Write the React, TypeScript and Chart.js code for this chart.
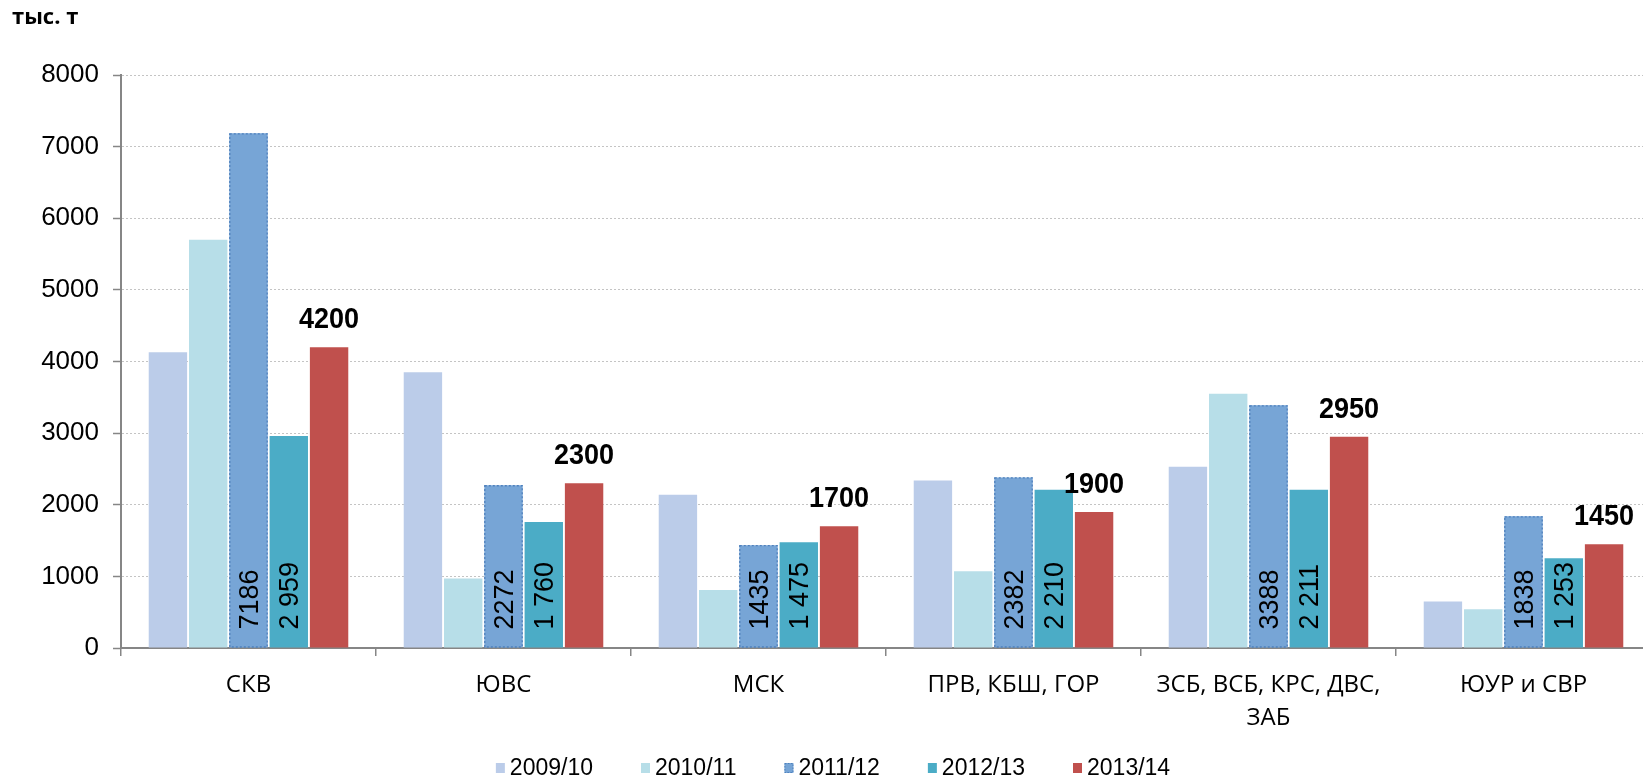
import React, { useEffect, useRef } from "react";
import { Chart, registerables } from "chart.js";

Chart.register(...registerables);

const categories: (string | string[])[] = [
  "СКВ",
  "ЮВС",
  "МСК",
  "ПРВ, КБШ, ГОР",
  ["ЗСБ, ВСБ, КРС, ДВС,", "ЗАБ"],
  "ЮУР и СВР",
];

const seriesNames = ["2009/10", "2010/11", "2011/12", "2012/13", "2013/14"];

const s2009_10 = [4130, 3850, 2140, 2340, 2530, 650];
const s2010_11 = [5700, 970, 810, 1070, 3550, 540];
const s2011_12 = [7186, 2272, 1435, 2382, 3388, 1838];
const s2012_13 = [2959, 1760, 1475, 2210, 2211, 1253];
const s2013_14 = [4200, 2300, 1700, 1900, 2950, 1450];

const yMin = 0;
const yMax = 8000;
const yStep = 1000;

const unitLabel = "тыс. т";

const seriesColors = ["#BBCCE9", "#B7DEE8", "#77A5D6", "#4BACC6", "#C0504D"];
const dottedBorderColor = "#4F81BD";

const ARIAL = "'Liberation Sans', Arial, sans-serif";
const HUMANIST = "'Open Sans', 'Noto Sans', sans-serif";

const groupThousands = (v: number) => String(v).replace(/\B(?=(\d{3})+(?!\d))/g, " ");

const customPlugin = {
  id: "customDecor",
  afterDatasetsDraw(chart: any) {
    const ctx = chart.ctx as CanvasRenderingContext2D;

    // dotted outline for 2011/12
    const meta2 = chart.getDatasetMeta(2);
    ctx.save();
    ctx.strokeStyle = dottedBorderColor;
    ctx.lineWidth = 1.3;
    ctx.setLineDash([2, 2]);
    meta2.data.forEach((bar: any) => {
      const { x, y, base, width } = bar.getProps(["x", "y", "base", "width"], true);
      ctx.strokeRect(x - width / 2 + 0.5, y + 0.5, width - 1, base - y - 1);
    });
    ctx.restore();

    // rotated value labels inside 2011/12 and 2012/13 bars
    const fs = 27;
    [2, 3].forEach((di) => {
      const meta = chart.getDatasetMeta(di);
      const data = chart.data.datasets[di].data as number[];
      meta.data.forEach((bar: any, i: number) => {
        const { x, base } = bar.getProps(["x", "base"], true);
        const text = di === 3 ? groupThousands(data[i]) : String(data[i]);
        ctx.save();
        ctx.translate(x, base - 18);
        ctx.rotate(-Math.PI / 2);
        ctx.font = `${fs}px ${ARIAL}`;
        ctx.fillStyle = "#000";
        ctx.textAlign = "left";
        ctx.textBaseline = "alphabetic";
        ctx.fillText(text, 0, (fs * 0.716) / 2);
        ctx.restore();
      });
    });

    // bold condensed labels above 2013/14 bars
    const meta4 = chart.getDatasetMeta(4);
    const data4 = chart.data.datasets[4].data as number[];
    meta4.data.forEach((bar: any, i: number) => {
      const { x, y } = bar.getProps(["x", "y"], true);
      ctx.save();
      ctx.translate(x, y - 19);
      ctx.scale(0.9, 1);
      ctx.font = `bold 30px ${ARIAL}`;
      ctx.fillStyle = "#000";
      ctx.textAlign = "center";
      ctx.textBaseline = "alphabetic";
      ctx.fillText(String(data4[i]), 0, 0);
      ctx.restore();
    });
  },
  afterDraw(chart: any) {
    const ctx = chart.ctx as CanvasRenderingContext2D;
    // unit label
    ctx.save();
    ctx.font = `bold 22px ${HUMANIST}`;
    ctx.fillStyle = "#000";
    ctx.textAlign = "left";
    ctx.textBaseline = "alphabetic";
    ctx.fillText(unitLabel, 12, 24);
    ctx.restore();

    // legend
    ctx.save();
    const lfs = 23;
    ctx.font = `${lfs}px ${ARIAL}`;
    const boxW = 9;
    const boxH = 10;
    const boxGap = 5;
    const itemGap = 48;
    const datasets = chart.data.datasets;
    const widths = datasets.map((d: any) => boxW + boxGap + ctx.measureText(d.label).width);
    const total = widths.reduce((a: number, b: number) => a + b, 0) + itemGap * (datasets.length - 1);
    const centerX = 833;
    const cy = 768;
    let x = centerX - total / 2;
    datasets.forEach((d: any, i: number) => {
      ctx.fillStyle = d.backgroundColor;
      ctx.fillRect(x, cy - boxH / 2, boxW, boxH);
      if (i === 2) {
        ctx.save();
        ctx.strokeStyle = dottedBorderColor;
        ctx.lineWidth = 1;
        ctx.setLineDash([1.5, 1.5]);
        ctx.strokeRect(x + 0.5, cy - boxH / 2 + 0.5, boxW - 1, boxH - 1);
        ctx.restore();
      }
      ctx.fillStyle = "#000";
      ctx.textAlign = "left";
      ctx.textBaseline = "middle";
      ctx.fillText(d.label, x + boxW + boxGap, cy + 1);
      x += widths[i] + itemGap;
    });
    ctx.restore();
  },
};

export default function App() {
  const canvasRef = useRef<HTMLCanvasElement | null>(null);

  useEffect(() => {
    if (!canvasRef.current) return;
    const seriesData = [s2009_10, s2010_11, s2011_12, s2012_13, s2013_14];
    const chart = new Chart(canvasRef.current, {
      type: "bar",
      data: {
        labels: categories as any,
        datasets: seriesNames.map((name, i) => ({
          label: name,
          data: seriesData[i],
          backgroundColor: seriesColors[i],
          borderWidth: 0,
          categoryPercentage: 0.79,
          barPercentage: 0.953,
        })),
      },
      options: {
        responsive: false,
        maintainAspectRatio: false,
        devicePixelRatio: 1,
        animation: false,
        layout: { padding: { top: 75, left: 0, right: 1, bottom: 38 } },
        plugins: {
          legend: { display: false },
          tooltip: { enabled: false },
          title: { display: false },
        },
        scales: {
          x: {
            offset: true,
            grid: {
              display: true,
              offset: true,
              drawOnChartArea: false,
              drawTicks: true,
              tickLength: 8,
              color: "#868686",
              tickColor: "#868686",
              lineWidth: 1.5,
            },
            border: { display: true, color: "#868686", width: 2 },
            ticks: {
              font: { family: HUMANIST, size: 24, lineHeight: 1.4 },
              color: "#000",
              padding: 12,
              maxRotation: 0,
              autoSkip: false,
            },
            afterFit: (s: any) => {
              s.height = 95;
            },
          },
          y: {
            min: yMin,
            max: yMax,
            ticks: {
              stepSize: yStep,
              font: { family: ARIAL, size: 26 },
              color: "#000",
              padding: 14,
              callback: (v: any) => String(v),
            },
            grid: {
              color: "#C4C4C4",
              lineWidth: 1,
              drawTicks: true,
              tickLength: 8,
              tickColor: "#868686",
              tickWidth: 1.5,
              tickBorderDash: [],
            },
            border: { display: true, color: "#868686", width: 2, dash: [2, 2] },
            afterFit: (s: any) => {
              s.width = 121;
            },
          },
        },
      },
      plugins: [customPlugin],
    });
    return () => chart.destroy();
  }, []);

  return (
    <div
      style={{
        position: "absolute",
        left: 0,
        top: 0,
        width: 1643,
        height: 781,
        overflow: "hidden",
        background: "#fff",
      }}
    >
      <canvas ref={canvasRef} width={1652} height={781} style={{ display: "block" }} />
    </div>
  );
}
